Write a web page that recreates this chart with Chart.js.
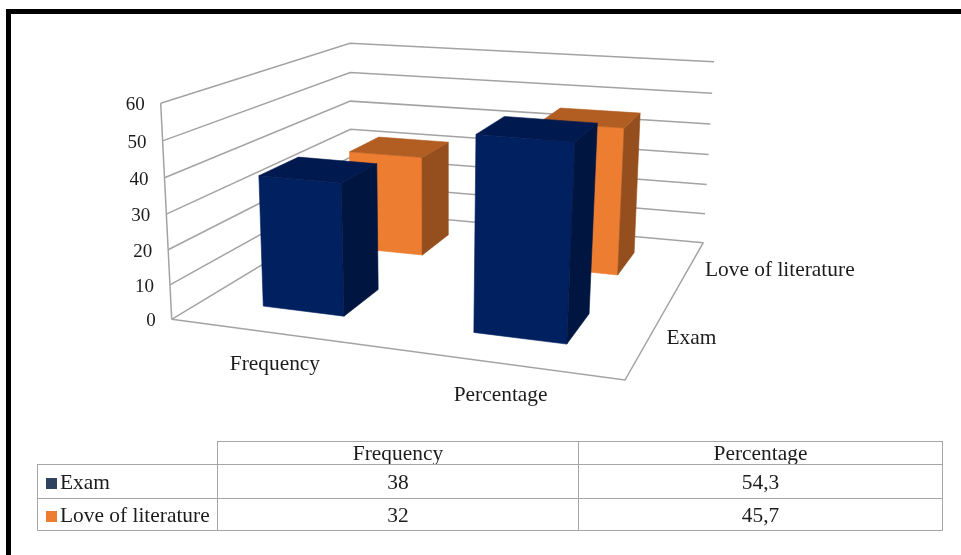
<!DOCTYPE html>
<html>

<head>
  <title>Exam and love of literature</title>
  <meta charset="UTF-8">
  <script src="https://cdn.jsdelivr.net/npm/chart.js"></script>
  <style>
    html,
    body {
      margin: 0;
      padding: 0;
      width: 961px;
      height: 555px;
      overflow: hidden;
      background: white;
    }

    .frame {
      position: absolute;
      left: 6px;
      top: 9px;
      width: 1000px;
      height: 600px;
      border-left: 5px solid black;
      border-top: 5px solid black;
    }

    canvas {
      position: absolute;
      left: 0;
      top: 0;
    }

    table {
      position: absolute;
      left: 37px;
      top: 441px;
      width: 905px;
      border-collapse: collapse;
      table-layout: fixed;
      font-family: "Liberation Serif", serif;
      font-size: 21.4px;
      line-height: 20px;
      color: #1c1c1c;
    }

    td,
    th {
      border: 1.4px solid #a6a6a6;
      padding: 0;
      font-weight: normal;
      text-align: center;
      white-space: nowrap;
      overflow: hidden;
    }

    .corner {
      border-top: none;
      border-left: none;
    }

    .name {
      text-align: left;
      padding-left: 8px;
    }

    .swatch {
      display: inline-block;
      width: 11px;
      height: 11px;
      margin-right: 3px;
    }
  </style>
</head>

<body>
  <div class="frame"></div>
  <canvas id="mainChart" width="961" height="555"></canvas>
  <table id="dataTable"></table>

  <script>
    const categories = ['Frequency', 'Percentage'];
    const seriesNames = ['Exam', 'Love of literature'];
    const examValues = [38, 54.3];
    const loveValues = [32, 45.7];
    const valueTicks = [0, 10, 20, 30, 40, 50, 60];

    const seriesValues = [examValues, loveValues];
    const valueMax = 60;
    const barSize = 0.2;
    const verticalPerspective = 0.95;

    // Box corners as they land on screen: front-left, front-right, back-right, back-left
    const floorCorners = [[171.7, 319.3], [625, 380], [703.3, 242.7], [351, 211]];
    const ceilingCorners = [[160.7, 103.3], [641, 142], [714, 61.7], [350, 43.3]];

    const colors = {
      grid: '#a3a3a3',
      text: '#1c1c1c',
      exam: { front: '#002060', side: '#00153f', top: '#001a4f', key: '#2f4260' },
      love: { front: '#ed7d31', side: '#954f1e', top: '#b25e23', key: '#ed7d31' }
    };

    // Unit square to quad, returns a function of (u, v)
    function quadMapping(q) {
      const [p0, p1, p2, p3] = q;
      const dx1 = p1[0] - p2[0], dx2 = p3[0] - p2[0], sx = p0[0] - p1[0] + p2[0] - p3[0];
      const dy1 = p1[1] - p2[1], dy2 = p3[1] - p2[1], sy = p0[1] - p1[1] + p2[1] - p3[1];
      const den = dx1 * dy2 - dx2 * dy1;
      const g = (sx * dy2 - dx2 * sy) / den;
      const h = (dx1 * sy - sx * dy1) / den;
      const a = p1[0] - p0[0] + g * p1[0], b = p3[0] - p0[0] + h * p3[0];
      const d = p1[1] - p0[1] + g * p1[1], e = p3[1] - p0[1] + h * p3[1];
      return (u, v) => {
        const w = 1 + g * u + h * v;
        return [(a * u + b * v + p0[0]) / w, (d * u + e * v + p0[1]) / w];
      };
    }

    const floorAt = quadMapping(floorCorners);
    const ceilingAt = quadMapping(ceilingCorners);

    // u runs along the categories, v into the depth, value is the height
    function project(u, v, value) {
      const t = value / valueMax;
      const low = floorAt(u, v);
      const high = ceilingAt(u, v);
      const k = verticalPerspective;
      const w = 1 + t * (k - 1);
      return {
        x: (low[0] + t * (k * high[0] - low[0])) / w,
        y: (low[1] + t * (k * high[1] - low[1])) / w
      };
    }

    function lineDataset(points) {
      return {
        data: points,
        showLine: true,
        fill: false,
        borderColor: colors.grid,
        borderWidth: 1.5,
        pointRadius: 0,
        tension: 0
      };
    }

    function faceDataset(points, color) {
      return {
        data: points.concat([points[0]]),
        showLine: true,
        fill: 'shape',
        backgroundColor: color,
        borderColor: color,
        borderWidth: 0.6,
        pointRadius: 0,
        tension: 0
      };
    }

    function barFaces(catIndex, seriesIndex, palette) {
      const value = seriesValues[seriesIndex][catIndex];
      const u0 = (catIndex + 0.5) / categories.length - barSize / 2;
      const u1 = u0 + barSize;
      const v0 = (seriesIndex + 0.5) / seriesNames.length - barSize / 2;
      const v1 = v0 + barSize;
      return [
        faceDataset([project(u0, v0, 0), project(u1, v0, 0), project(u1, v0, value), project(u0, v0, value)], palette.front),
        faceDataset([project(u1, v0, 0), project(u1, v1, 0), project(u1, v1, value), project(u1, v0, value)], palette.side),
        faceDataset([project(u0, v0, value), project(u1, v0, value), project(u1, v1, value), project(u0, v1, value)], palette.top)
      ];
    }

    // Listed back to front, reversed below since Chart.js paints dataset 0 last
    const painted = [];
    valueTicks.forEach(tick => {
      painted.push(lineDataset([project(0, 0, tick), project(0, 1, tick), project(1, 1, tick)]));
    });
    painted.push(lineDataset([project(0, 0, 0), project(0, 0, valueMax)]));
    painted.push(lineDataset([project(0, 0, 0), project(1, 0, 0), project(1, 1, 0)]));
    categories.forEach((c, i) => painted.push(...barFaces(i, 1, colors.love)));
    categories.forEach((c, i) => painted.push(...barFaces(i, 0, colors.exam)));

    const axisLabels = {
      id: 'axisLabels',
      afterDraw(chart) {
        const { ctx, scales } = chart;
        const put = (text, p, dx, dy, align, size) => {
          ctx.font = size + 'px "Liberation Serif", serif';
          ctx.textAlign = align;
          ctx.textBaseline = 'middle';
          ctx.fillText(text, scales.x.getPixelForValue(p.x) + dx, scales.y.getPixelForValue(p.y) + dy);
        };
        ctx.save();
        ctx.fillStyle = colors.text;
        valueTicks.forEach(tick => put(String(tick), project(0, 0, tick), -16, 2, 'right', 19));
        categories.forEach((c, i) => put(c, project((i + 0.5) / categories.length, 0, 0), 2, 32, 'center', 21.4));
        seriesNames.forEach((s, i) => put(s, project(1, (i + 0.5) / seriesNames.length, 0), 17, 1, 'left', 21.4));
        ctx.restore();
      }
    };

    new Chart(document.getElementById('mainChart').getContext('2d'), {
      type: 'scatter',
      data: { datasets: painted.reverse() },
      plugins: [axisLabels],
      options: {
        responsive: false,
        animation: false,
        layout: { padding: 0 },
        plugins: {
          legend: { display: false },
          tooltip: { enabled: false }
        },
        scales: {
          x: { type: 'linear', min: 0, max: 961, display: false },
          y: { type: 'linear', min: 0, max: 555, reverse: true, display: false }
        }
      }
    });

    // Data table under the plot, decimals written with a comma
    function buildTable() {
      const rowHeights = [23, 34, 32];
      const table = document.getElementById('dataTable');
      let html = '<colgroup><col style="width:180px"><col style="width:361px"><col style="width:364px"></colgroup>';
      html += `<tr style="height:${rowHeights[0]}px"><th class="corner"></th>`;
      categories.forEach(c => { html += `<th>${c}</th>`; });
      html += '</tr>';
      seriesNames.forEach((name, i) => {
        const key = i === 0 ? colors.exam.key : colors.love.key;
        html += `<tr style="height:${rowHeights[i + 1]}px"><td class="name"><span class="swatch" style="background:${key}"></span>${name}</td>`;
        seriesValues[i].forEach(v => { html += `<td>${String(v).replace('.', ',')}</td>`; });
        html += '</tr>';
      });
      table.innerHTML = html;
    }

    buildTable();
  </script>
</body>

</html>
